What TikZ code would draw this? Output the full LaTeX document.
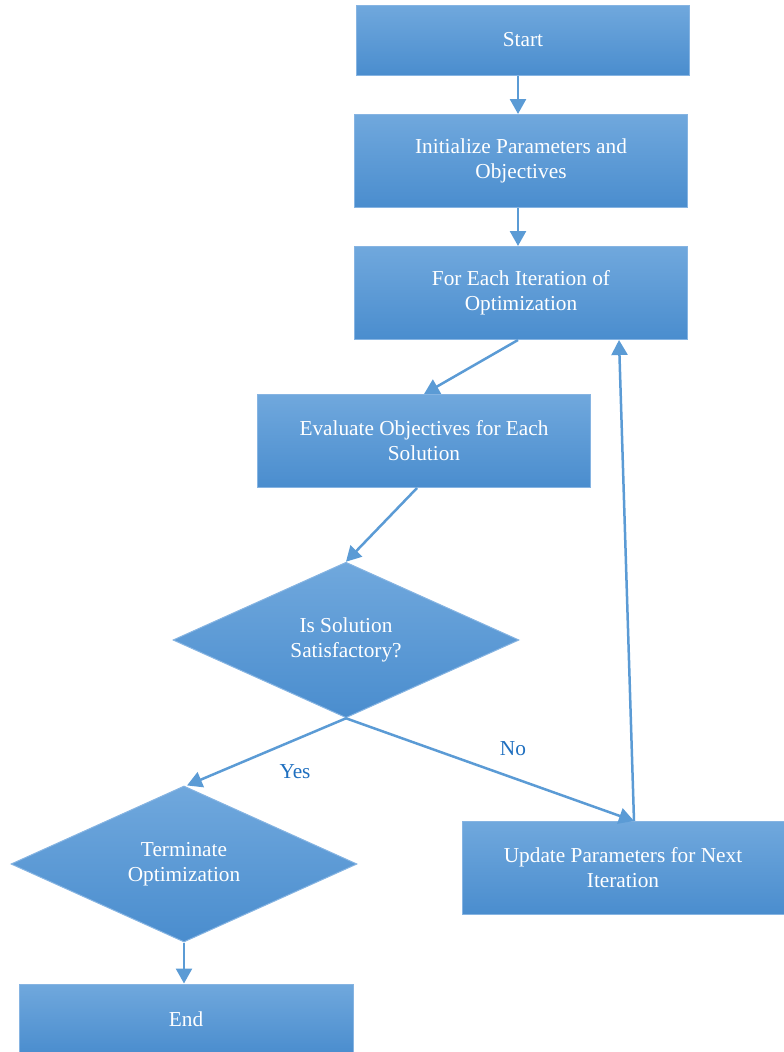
\documentclass[tikz,border=0pt]{standalone}
\usepackage{fontspec}
\setmainfont{Liberation Serif}
\usepackage{xcolor}
\usetikzlibrary{shapes.geometric}
\usetikzlibrary{arrows.meta}
\definecolor{boxtop}{HTML}{70A8DD}
\definecolor{boxbot}{HTML}{4A8DCE}
\definecolor{boxline}{HTML}{86B4E2}
\definecolor{flowline}{HTML}{5B9BD5}
\definecolor{ansblue}{HTML}{1F6FBF}

\begin{document}
\begin{tikzpicture}[
			     x=1pt, y=-1pt,
			     font=\fontsize{21.3}{25}\selectfont,
			     procbox/.style={rectangle, draw=boxline, line width=1pt, top color=boxtop, bottom color=boxbot, text=white, align=center, minimum width=333pt, minimum height=93pt, inner sep=0pt},
			     testbox/.style={diamond, draw=boxline, line width=1pt, top color=boxtop, bottom color=boxbot, text=white, align=center, minimum width=346pt, minimum height=148pt, inner sep=0pt},
			     flow/.style={draw=flowline, line width=2.5pt, -{Triangle[length=15pt,width=16pt]}},
			     ans/.style={text=ansblue}
			     ]
\useasboundingbox (0,0) rectangle (784,1052);
\node[procbox, minimum height=70pt] (start) at (523,40) {Start};
\node[procbox] (init) at (521,161) {Initialize Parameters and\\Objectives};
\node[procbox] (iter) at (521,293) {For Each Iteration of\\Optimization};
\node[procbox] (eval) at (424,441) {Evaluate Objectives for Each\\Solution};
\node[testbox] (check) at (346,640) {Is Solution\\Satisfactory?};
\node[testbox] (term) at (184,864) {Terminate\\Optimization};
\node[procbox, minimum width=334pt, minimum height=70pt] (end) at (186,1019) {End};
\node[procbox, minimum width=322pt] (upd) at (623,868) {Update Parameters for Next\\Iteration};
\node[ans] (yes) at (295,772) {Yes};
\node[ans] (no) at (513,749) {No};
\path ([xshift=-5pt]start.south) edge[flow] ([xshift=-3pt]init.north);
\path ([xshift=-3pt]init.south) edge[flow] ([xshift=-3pt]iter.north);
\path ([xshift=-3pt]iter.south) edge[flow] (eval.north);
\path ([xshift=-7pt]eval.south) edge[flow] (check.north);
\path (check.south) edge[flow] ([xshift=3pt]term.north);
\path (check.south) edge[flow] ([xshift=11pt]upd.north);
\path ([xshift=11pt]upd.north) edge[flow] ([xshift=98pt]iter.south);
\path (term.south) edge[flow] ([xshift=-2pt]end.north);
\end{tikzpicture}
\end{document}
